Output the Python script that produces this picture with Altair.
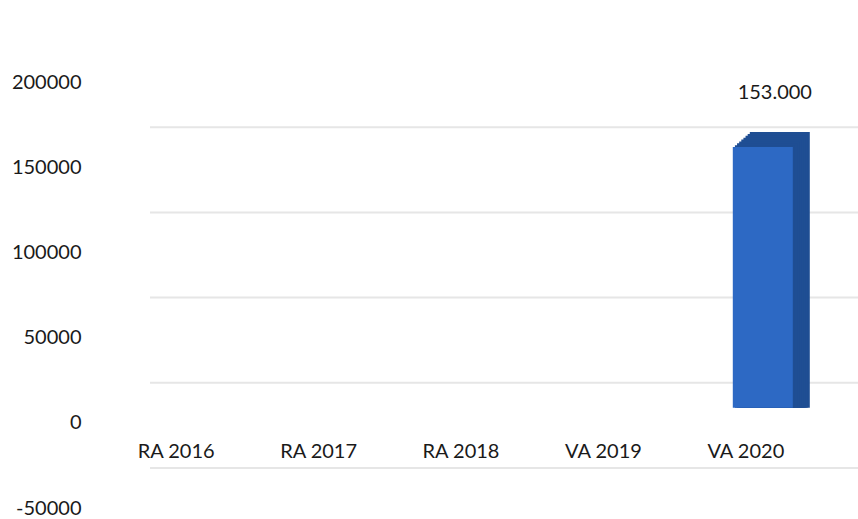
import altair as alt
import pandas as pd

categories = ["RA 2016", "RA 2017", "RA 2018", "VA 2019", "VA 2020"]
values = [None, None, None, None, 153000]
y_ticks = [-50000, 0, 50000, 100000, 150000, 200000]
grid_values = [-50000, 0, 50000, 100000, 150000]

df = pd.DataFrame({"cat": categories, "val": values})
df["label"] = df["val"].apply(lambda v: "" if pd.isna(v) else f"{int(v):,}".replace(",", "."))
bars_df = df.dropna(subset=["val"])
grid_df = pd.DataFrame({"g": grid_values})

FONT = "Lato"
FS = 20
TXT = "#1a1a1a"
x_enc = alt.X("cat:N", sort=categories, axis=None, scale=alt.Scale(paddingInner=0, paddingOuter=0))
y_scale = alt.Scale(domain=[-50000, 200000], nice=False, zero=False)

axis_layer = alt.Chart(grid_df).mark_rule(opacity=0).encode(
    y=alt.Y("g:Q", scale=y_scale, title=None,
            axis=alt.Axis(values=y_ticks, grid=False, ticks=False, domain=False,
                          labelOffset=15, labelPadding=24, labelFont=FONT,
                          labelFontSize=FS, labelColor=TXT,
                          labelExpr="'' + datum.value"))
)

grid = alt.Chart(grid_df).mark_rule(color="#e6e6e6", strokeWidth=2, yOffset=-25).encode(
    y=alt.Y("g:Q", scale=y_scale),
    x=alt.value(45),
    x2=alt.value(753),
)

depth_layers = []
steps = 8
for k in range(steps, 0, -1):
    depth_layers.append(
        alt.Chart(bars_df).mark_bar(size=60, color="#1f4e93",
                                    xOffset=17 + 17 * k / steps,
                                    yOffset=-15 * k / steps).encode(
            x=x_enc,
            y=alt.Y("val:Q", scale=y_scale),
            y2=alt.datum(0),
        )
    )

front = alt.Chart(bars_df).mark_bar(size=60, color="#2d69c4", xOffset=17).encode(
    x=x_enc,
    y=alt.Y("val:Q", scale=y_scale),
    y2=alt.datum(0),
)

value_text = alt.Chart(bars_df).mark_text(
    dx=29, dy=-54, font=FONT, fontSize=FS, color=TXT
).encode(
    x=x_enc,
    y=alt.Y("val:Q", scale=y_scale),
    text="label:N",
)

cat_text = alt.Chart(df).mark_text(font=FONT, fontSize=FS, color=TXT).encode(
    x=x_enc,
    y=alt.value(385),
    text="cat:N",
)

chart = alt.layer(axis_layer, grid, *depth_layers, front, value_text, cat_text).properties(
    width=712, height=426,
    autosize=alt.AutoSizeParams(type="none"),
    padding={"left": 105, "top": 67, "right": 41, "bottom": 26},
    background="white",
).configure_view(stroke=None)

chart.save("out.html", embed_options={"renderer": "svg", "actions": False})
